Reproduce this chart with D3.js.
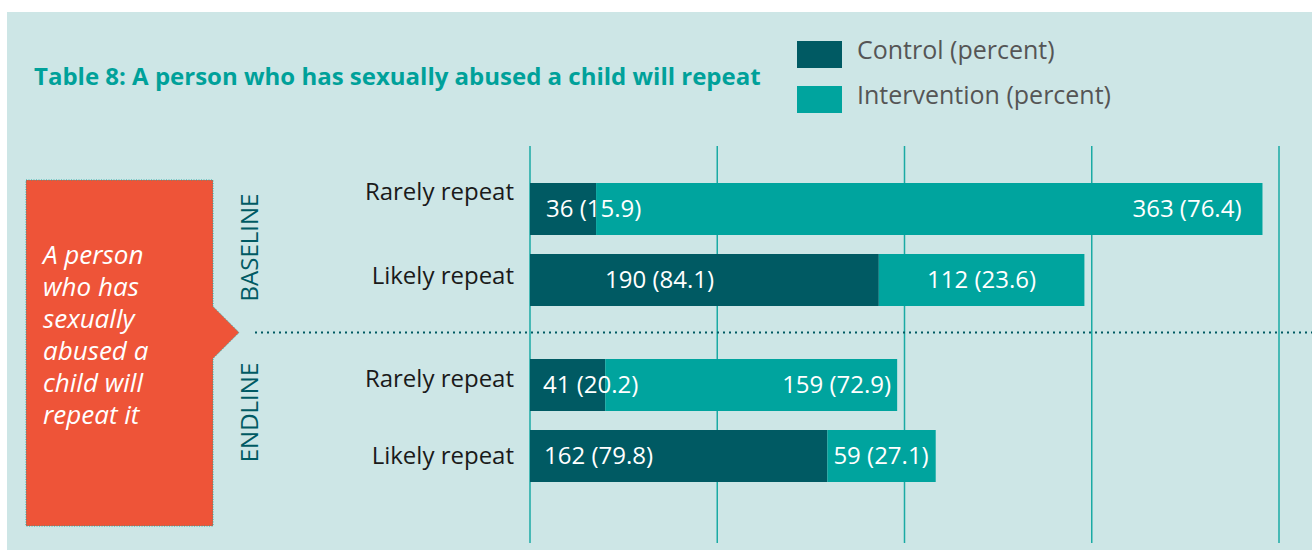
<!DOCTYPE html>
<html>
<head>
<meta charset="utf-8">
<script src="https://cdn.jsdelivr.net/npm/d3@7"></script>
<style>
  html, body { margin: 0; padding: 0; background: #ffffff; }
  svg { display: block; font-family: "Open Sans", "Noto Sans", sans-serif; }
</style>
</head>
<body>
<svg id="chart" width="1312" height="550"></svg>
<script>
// ---- data ----
const phases = ["BASELINE", "ENDLINE"];
const rowLabels = ["Rarely repeat", "Likely repeat", "Rarely repeat", "Likely repeat"];
const rowPhase = ["BASELINE", "BASELINE", "ENDLINE", "ENDLINE"];
const controlCounts = [36, 190, 41, 162];
const controlPercents = [15.9, 84.1, 20.2, 79.8];
const interventionCounts = [363, 112, 159, 59];
const interventionPercents = [76.4, 23.6, 72.9, 27.1];
const seriesNames = ["Control (percent)", "Intervention (percent)"];
const titleText = "Table 8: A person who has sexually abused a child will repeat";
const statementLines = ["A person", "who has", "sexually", "abused a", "child will", "repeat it"];

// ---- styling ----
const colors = {
  panel: "#cde6e6",
  control: "#005a63",
  intervention: "#00a49e",
  grid: "#1aaaa4",
  title: "#00a19a",
  legendText: "#555555",
  rowText: "#1a1a1a",
  phaseText: "#005a63",
  callout: "#ee5438"
};

// label placement inside each bar: [anchor, offset]
const controlLabelPlace = [["start", 16], ["start", 75], ["start", 13], ["start", 14]];
const interventionLabelPlace = [["end", -21], ["middle", 0], ["end", -6], ["start", 6]];
const rowLabelDy = [-9, 4, 2, 8];
const phaseLabelDy = [3, -8];

const svg = d3.select("#chart");

// background panel
svg.append("rect")
  .attr("x", 7).attr("y", 12)
  .attr("width", 1305).attr("height", 538)
  .attr("fill", colors.panel);

// ---- scales ----
const x = d3.scaleLinear().domain([0, 408]).range([530, 1279]);
const yGroup = d3.scaleBand().domain(phases).range([164, 516]);
const yInner = d3.scaleBand().domain(["a", "b"]).range([19, 142]).paddingInner(19 / 71);

const rows = rowLabels.map((label, i) => {
  const inGroup = rowPhase.slice(0, i).filter(p => p === rowPhase[i]).length;
  return {
    i,
    label,
    phase: rowPhase[i],
    y: yGroup(rowPhase[i]) + yInner(inGroup === 0 ? "a" : "b"),
    c: controlCounts[i],
    cp: controlPercents[i],
    v: interventionCounts[i],
    vp: interventionPercents[i]
  };
});
const bh = yInner.bandwidth();

// ---- gridlines ----
const gridTicks = d3.range(0, 409, 102);
svg.append("g").selectAll("line")
  .data(gridTicks)
  .join("line")
  .attr("x1", d => x(d)).attr("x2", d => x(d))
  .attr("y1", 146).attr("y2", 543)
  .attr("stroke", colors.grid)
  .attr("stroke-width", 1.5);

// ---- separator between phases ----
const sepY = (rows[1].y + bh + rows[2].y) / 2;
svg.append("line")
  .attr("x1", 255).attr("x2", 1312)
  .attr("y1", sepY).attr("y2", sepY)
  .attr("stroke", colors.control)
  .attr("stroke-width", 2)
  .attr("stroke-dasharray", "2,4");

// ---- bars ----
const barG = svg.append("g");
barG.selectAll("rect.control")
  .data(rows)
  .join("rect")
  .attr("class", "control")
  .attr("x", x(0))
  .attr("y", d => d.y)
  .attr("width", d => x(d.c) - x(0))
  .attr("height", bh)
  .attr("fill", colors.control);

barG.selectAll("rect.intervention")
  .data(rows)
  .join("rect")
  .attr("class", "intervention")
  .attr("x", d => x(d.c))
  .attr("y", d => d.y)
  .attr("width", d => x(d.c + d.v) - x(d.c))
  .attr("height", bh)
  .attr("fill", colors.intervention);

// ---- value labels ----
const fmt = d3.format(".1f");
const labelG = svg.append("g")
  .attr("fill", "#ffffff")
  .attr("font-size", 24);

labelG.selectAll("text.cl")
  .data(rows)
  .join("text")
  .attr("class", "cl")
  .attr("x", d => x(0) + controlLabelPlace[d.i][1])
  .attr("y", d => d.y + bh / 2 + 8)
  .attr("text-anchor", d => controlLabelPlace[d.i][0])
  .text(d => `${d.c} (${fmt(d.cp)})`);

labelG.selectAll("text.il")
  .data(rows)
  .join("text")
  .attr("class", "il")
  .attr("x", d => {
    const [anchor, off] = interventionLabelPlace[d.i];
    if (anchor === "end") return x(d.c + d.v) + off;
    if (anchor === "middle") return (x(d.c) + x(d.c + d.v)) / 2 + off;
    return x(d.c) + off;
  })
  .attr("y", d => d.y + bh / 2 + 8)
  .attr("text-anchor", d => interventionLabelPlace[d.i][0])
  .text(d => `${d.v} (${fmt(d.vp)})`);

// ---- row labels ----
svg.append("g").selectAll("text")
  .data(rows)
  .join("text")
  .attr("x", 514)
  .attr("y", d => d.y + bh / 2 + rowLabelDy[d.i])
  .attr("text-anchor", "end")
  .attr("font-size", 24)
  .attr("fill", colors.rowText)
  .text(d => d.label);

// ---- phase labels (rotated) ----
svg.append("g").selectAll("text")
  .data(phases)
  .join("text")
  .attr("transform", (p, k) => {
    const rs = rows.filter(r => r.phase === p);
    const cy = (rs[0].y + rs[rs.length - 1].y + bh) / 2 + phaseLabelDy[k];
    return `translate(258,${cy}) rotate(-90)`;
  })
  .attr("text-anchor", "middle")
  .attr("font-size", 24)
  .attr("fill", colors.phaseText)
  .text(p => p);

// ---- callout box ----
const notchY = sepY;
const callout = [
  [26, 180], [213, 180], [213, notchY - 26], [239, notchY],
  [213, notchY + 26], [213, 526], [26, 526]
];
svg.append("polygon")
  .attr("points", callout.map(p => p.join(",")).join(" "))
  .attr("fill", colors.callout)
  .attr("stroke", colors.grid)
  .attr("stroke-width", 1)
  .attr("stroke-dasharray", "1,1.5");

svg.append("text")
  .attr("x", 43)
  .attr("font-size", 26)
  .attr("font-style", "italic")
  .attr("fill", "#ffffff")
  .selectAll("tspan")
  .data(statementLines)
  .join("tspan")
  .attr("x", 43)
  .attr("y", (d, i) => 264 + i * 32)
  .text(d => d);

// ---- title ----
svg.append("text")
  .attr("x", 34).attr("y", 85)
  .attr("font-size", 24)
  .attr("font-weight", 700)
  .attr("fill", colors.title)
  .text(titleText);

// ---- legend ----
const legendColors = [colors.control, colors.intervention];
const legend = svg.append("g").selectAll("g")
  .data(seriesNames)
  .join("g")
  .attr("transform", (d, i) => `translate(797,${41 + i * 45})`);
legend.append("rect")
  .attr("width", 45).attr("height", 27)
  .attr("fill", (d, i) => legendColors[i]);
legend.append("text")
  .attr("x", 60).attr("y", 18)
  .attr("font-size", 25)
  .attr("fill", colors.legendText)
  .text(d => d);
</script>
</body>
</html>
